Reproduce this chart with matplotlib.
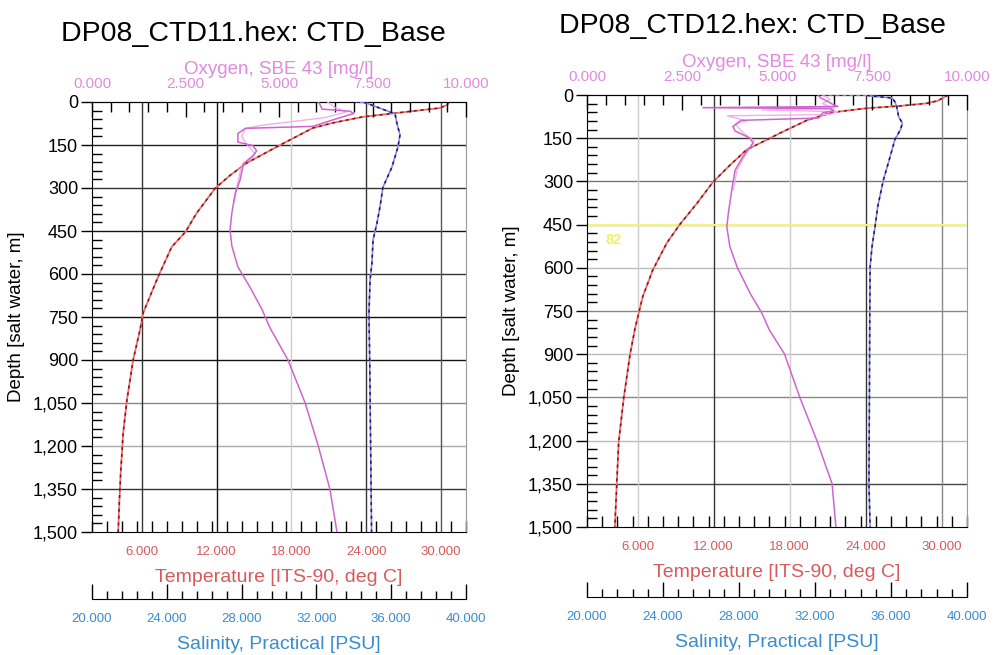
import numpy as np
import matplotlib.pyplot as plt
from matplotlib.ticker import MultipleLocator, FixedLocator, FuncFormatter

plt.rcParams['font.family'] = ['Liberation Sans', 'DejaVu Sans']

# ---- CTD11 (left) ----
t11_depth = [0, 10, 21, 38, 52, 73, 91, 150, 213, 255, 300, 387, 453, 505, 610,
             736, 795, 900, 1040, 1155, 1295, 1388, 1500]
t11_temp = [30.6, 30.5, 29.9, 26.5, 23.7, 21.3, 19.7, 17.1, 14.4, 13.1, 11.9, 10.4,
            9.5, 8.4, 7.3, 6.1, 5.85, 5.3, 4.8, 4.5, 4.3, 4.2, 4.1]

s11_depth = [0, 2, 35, 40, 73, 115, 157, 227, 297, 366, 422, 481, 561, 621, 736,
             900, 1200, 1500]
s11_sal = [34.17, 34.6, 35.94, 36.2, 36.3, 36.47, 36.36, 36.04, 35.56, 35.4, 35.24,
           35.03, 34.97, 34.87, 34.81, 34.85, 34.9, 34.95]

o11_depth = [0, 10, 25, 32, 40, 60, 85, 92, 110, 140, 152, 170, 190, 215, 272, 318,
             387, 446, 503, 575, 645, 725, 788, 900, 1050, 1200, 1350, 1500]
o11_oxy = [6.05, 6.1, 6.15, 6.9, 7.0, 6.5, 5.9, 4.1, 3.9, 3.9, 4.3, 4.4, 4.3, 4.05,
           3.96, 3.83, 3.74, 3.69, 3.74, 3.9, 4.22, 4.55, 4.76, 5.24, 5.7, 6.05,
           6.36, 6.55]
o11b_depth = [0, 20, 35, 55, 80, 92, 120, 150, 180, 220, 280, 350]
o11b_oxy = [6.3, 6.5, 6.8, 6.2, 4.6, 4.1, 4.0, 4.15, 4.35, 4.0, 3.9, 3.8]

# ---- CTD12 (right) ----
t12_depth = [0, 20, 29, 38, 46, 60, 87, 133, 150, 190, 243, 302, 375, 451, 514,
             607, 700, 809, 900, 1052, 1205, 1350, 1500]
t12_temp = [30.5, 29.7, 28.8, 26.7, 24.1, 21.4, 19.4, 17.2, 16.45, 14.6, 13.3, 11.95,
            10.7, 9.3, 8.3, 7.2, 6.4, 5.8, 5.4, 4.9, 4.5, 4.35, 4.2]

s12_depth = [0, 0.5, 4, 10, 23, 40, 75, 98, 120, 156, 215, 295, 388, 457, 527, 597,
             800, 1100, 1350, 1500]
s12_sal = [32.2, 34.7, 35.0, 36.05, 36.2, 36.3, 36.4, 36.6, 36.5, 36.2, 35.95, 35.6,
           35.3, 35.16, 35.0, 34.9, 34.88, 34.86, 34.84, 34.9]

o12_depth = [0, 10, 20, 35, 40, 44, 47, 55, 62, 80, 88, 110, 125, 150, 167, 215,
             260, 320, 410, 458, 527, 597, 688, 757, 816, 900, 1050, 1200, 1350, 1500]
o12_oxy = [6.08, 6.15, 6.3, 6.5, 6.6, 3.05, 6.4, 6.5, 6.2, 6.1, 4.05, 3.84, 3.9,
           4.29, 4.37, 4.1, 3.9, 3.82, 3.72, 3.68, 3.76, 3.95, 4.29, 4.6, 4.8, 5.2,
           5.6, 6.05, 6.45, 6.55]
o12b_depth = [0, 15, 30, 48, 52, 58, 68, 72, 90, 100, 130, 160, 200, 260, 330]
o12b_oxy = [6.2, 6.4, 6.2, 6.5, 4.6, 6.6, 6.4, 3.7, 4.2, 3.9, 4.1, 4.4, 4.2, 3.95, 3.85]

titles = ["DP08_CTD11.hex: CTD_Base", "DP08_CTD12.hex: CTD_Base"]
marker_depth = 450
marker_label = "82"

RED = '#d85a5a'
BLUE = '#3a8ccc'
VIOLET = '#e08ae0'

fig = plt.figure(figsize=(9.94, 6.55), dpi=100)


def panel(rect, title, title_xy, td, tv, sd, sv, od, ov, od2, ov2, hcol, vcol,
          sal_out, marker=False):
    ax = fig.add_axes(rect)
    ax.set_xlim(2, 32)
    ax.set_ylim(1500, 0)

    # grid
    for d, c in zip(np.arange(150, 1500, 150), hcol):
        ax.axhline(d, color=c, lw=1, zorder=1)
    for t, c in zip(np.arange(6, 31, 6), vcol):
        ax.axvline(t, color=c, lw=1, zorder=1)
    if marker:
        ax.axhline(marker_depth, color='#f4f47a', lw=1.6, zorder=2)
        ax.text(3.5, marker_depth + 30, marker_label, color='#f0f060',
                fontsize=10.5, fontweight='bold', va='top', ha='left')

    # temperature
    ax.plot(tv, td, color='#e87070', lw=1.3, zorder=4)
    ax.plot(tv, td, color='#8a1010', lw=1.1, ls=(0, (2, 2.5)), zorder=5)

    ax.yaxis.set_major_locator(MultipleLocator(150))
    ax.yaxis.set_minor_locator(MultipleLocator(30))
    ax.yaxis.set_major_formatter(FuncFormatter(lambda v, p: f"{v:,.0f}"))
    ax.tick_params(axis='y', which='major', direction='out', length=8, width=1,
                   labelsize=13, pad=2)
    ax.tick_params(axis='y', which='minor', direction='in', length=7, width=1)
    ax.set_ylabel("Depth [salt water, m]", fontsize=13.5, labelpad=6)

    ax.xaxis.set_major_locator(FixedLocator(np.arange(6, 31, 6)))
    ax.xaxis.set_minor_locator(FixedLocator(np.arange(2, 32.01, 1.2)))
    ax.xaxis.set_major_formatter(FuncFormatter(lambda v, p: f"{v:.3f}"))
    ax.tick_params(axis='x', which='major', length=0, labelsize=9.5, pad=10,
                   labelcolor=RED)
    ax.tick_params(axis='x', which='minor', direction='in', length=8, width=1)
    ax.set_xlabel("Temperature [ITS-90, deg C]", color=RED, fontsize=14,
                  labelpad=8)
    ax.spines['right'].set_color('#999999')
    for s in ('left', 'top', 'bottom'):
        ax.spines[s].set_color('black')

    # oxygen on top
    axo = ax.twiny()
    axo.set_xlim(0, 10)
    axo.plot(ov2, od2, color='#f0b0ee', lw=1.0, zorder=3)
    axo.plot(ov, od, color='#cc66cc', lw=1.1, zorder=4)
    axo.xaxis.set_major_locator(MultipleLocator(2.5))
    axo.xaxis.set_minor_locator(MultipleLocator(0.5))
    axo.xaxis.set_major_formatter(FuncFormatter(lambda v, p: f"{v:.3f}"))
    axo.tick_params(axis='x', which='major', direction='in', length=11, width=1,
                    labelsize=11, labelcolor=VIOLET, pad=8)
    axo.tick_params(axis='x', which='minor', direction='in', length=7, width=1)
    axo.set_xlabel("Oxygen, SBE 43 [mg/l]", color=VIOLET, fontsize=13.5, labelpad=2)
    for s in ('left', 'right', 'bottom'):
        axo.spines[s].set_visible(False)

    # salinity axis below
    axs = ax.twiny()
    axs.set_xlim(20, 40)
    axs.plot(sv, sd, color='#8a8ad8', lw=1.2, zorder=4)
    axs.plot(sv, sd, color='#151570', lw=1.1, ls=(0, (2, 2.5)), zorder=5)
    axs.xaxis.set_ticks_position('bottom')
    axs.xaxis.set_label_position('bottom')
    axs.spines['bottom'].set_position(('outward', sal_out))
    for s in ('left', 'right', 'top'):
        axs.spines[s].set_visible(False)
    axs.xaxis.set_major_locator(MultipleLocator(4))
    axs.xaxis.set_minor_locator(MultipleLocator(0.8))
    axs.xaxis.set_major_formatter(FuncFormatter(lambda v, p: f"{v:.3f}"))
    axs.tick_params(axis='x', which='major', direction='in', length=11, width=1,
                    labelsize=9.5, labelcolor=BLUE, pad=10)
    axs.tick_params(axis='x', which='minor', direction='in', length=6, width=1)
    axs.set_xlabel("Salinity, Practical [PSU]", color=BLUE, fontsize=14, labelpad=8)

    fig.text(title_xy[0], title_xy[1], title, fontsize=20.5, ha='center',
             va='center')


panel([92 / 994, 1 - 532 / 655, 374 / 994, 430 / 655], titles[0],
      (253 / 994, 1 - 34 / 655),
      t11_depth, t11_temp, s11_depth, s11_sal, o11_depth, o11_oxy,
      o11b_depth, o11b_oxy,
      hcol=['#222222', '#333333', '#111111', '#333333', '#111111', '#111111',
            '#888888', '#aaaaaa', '#333333'],
      vcol=['#333333', '#111111', '#cccccc', '#333333', '#555555'],
      sal_out=48)

panel([587 / 994, 1 - 527 / 655, 380 / 994, 432 / 655], titles[1],
      (752 / 994, 1 - 26 / 655),
      t12_depth, t12_temp, s12_depth, s12_sal, o12_depth, o12_oxy,
      o12b_depth, o12b_oxy,
      hcol=['#333333', '#777777', '#888888', '#bbbbbb', '#888888', '#bbbbbb',
            '#888888', '#bbbbbb', '#444444'],
      vcol=['#cccccc', '#333333', '#cccccc', '#333333', '#888888'],
      sal_out=50.5, marker=True)

fig.savefig("out.png", dpi=100)
